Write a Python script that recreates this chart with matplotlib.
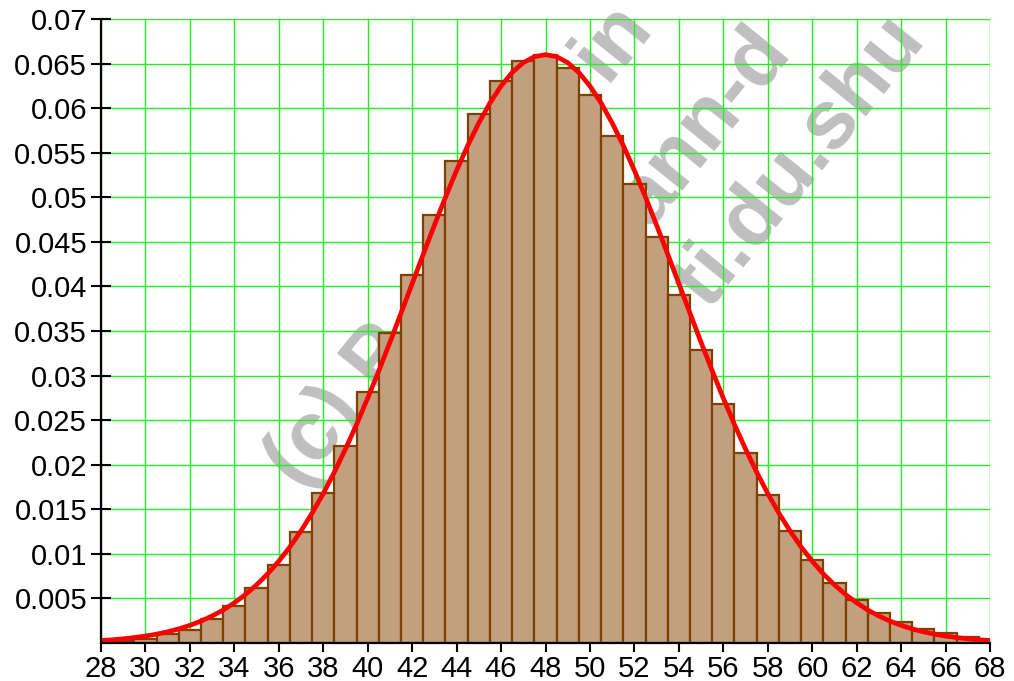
import numpy as np
import matplotlib
matplotlib.use("Agg")
import matplotlib.pyplot as plt
from matplotlib.ticker import FormatStrFormatter

# histogram bars (centred on integers, width 1)
bar_x = [29, 30, 31, 32, 33, 34, 35, 36, 37, 38, 39, 40, 41, 42, 43, 44, 45, 46, 47, 48,
         49, 50, 51, 52, 53, 54, 55, 56, 57, 58, 59, 60, 61, 62, 63, 64, 65, 66, 67]
bar_h = [0.0002, 0.0005, 0.0010, 0.0015, 0.0027, 0.0041, 0.0062, 0.0088, 0.0124, 0.0168,
         0.0221, 0.0282, 0.0348, 0.0413, 0.0480, 0.0541, 0.0593, 0.0631, 0.0653, 0.0660,
         0.0645, 0.0615, 0.0569, 0.0515, 0.0456, 0.0390, 0.0329, 0.0268, 0.0213, 0.0166,
         0.0126, 0.0093, 0.0067, 0.0048, 0.0034, 0.0023, 0.0016, 0.0011, 0.0007]

# red density curve, read every 0.5 from 28 to 68
curve_x = np.arange(28, 68.5, 0.5)
curve_left = [0.00028, 0.00036, 0.00047, 0.00061, 0.00078, 0.00099, 0.00126, 0.00158,
              0.00198, 0.00246, 0.00303, 0.00370, 0.00451, 0.00544, 0.00652, 0.00776,
              0.00918, 0.01078, 0.01258, 0.01458, 0.01677, 0.01917, 0.02176, 0.02453,
              0.02747, 0.03054, 0.03373, 0.03700, 0.04031, 0.04361, 0.04686, 0.05001,
              0.05301, 0.05580, 0.05834, 0.06058, 0.06248, 0.06400, 0.06510, 0.06577]
curve_peak = [0.06600]
curve_y = curve_left + curve_peak + curve_left[::-1]

x_ticks = list(range(28, 70, 2))
y_ticks = [0.005, 0.01, 0.015, 0.02, 0.025, 0.03, 0.035, 0.04, 0.045, 0.05,
           0.055, 0.06, 0.065, 0.07]

plt.rcParams['font.family'] = ['Liberation Sans', 'DejaVu Sans']

fig = plt.figure(figsize=(10.14, 6.81), dpi=100)
ax = fig.add_axes([101 / 1014, 1 - 643 / 681, 889 / 1014, 624 / 681])
ax.set_facecolor('none')

# watermark, behind the axes content
wm = dict(fontsize=60, fontweight='bold', color='#bfbfbf', rotation=51,
          rotation_mode='anchor', ha='left', va='baseline', zorder=-1)
fig.text(300 / 1014, 1 - 490 / 681, '(c) P', **wm)
fig.text(606 / 1014, 1 - 84 / 681, 'in', **wm)
fig.text(650 / 1014, 1 - 228 / 681, 'ann-d', **wm)
fig.text(708 / 1014, 1 - 310 / 681, 'ti.du.shu', **wm)

ax.bar(bar_x, bar_h, width=1.0, color='#c19f7f', edgecolor='#804000',
       linewidth=1.6, zorder=1)
ax.plot(curve_x, curve_y, color='red', linewidth=3.4, zorder=3)

ax.set_xlim(28, 68)
ax.set_ylim(0, 0.07)
ax.set_xticks(x_ticks)
ax.set_yticks(y_ticks)
ax.yaxis.set_major_formatter(FormatStrFormatter('%g'))

ax.set_axisbelow(True)
ax.grid(True, color='#22ee22', linewidth=1.0)

for side in ['top', 'right']:
    ax.spines[side].set_visible(False)
for side in ['left', 'bottom']:
    ax.spines[side].set_linewidth(1.6)
    ax.spines[side].set_zorder(4)

ax.tick_params(axis='x', direction='out', length=6.5, width=1.5, labelsize=21, pad=2)
ax.tick_params(axis='y', direction='inout', length=14, width=1.5, labelsize=21, pad=3)

fig.savefig('out.png', dpi=100)
